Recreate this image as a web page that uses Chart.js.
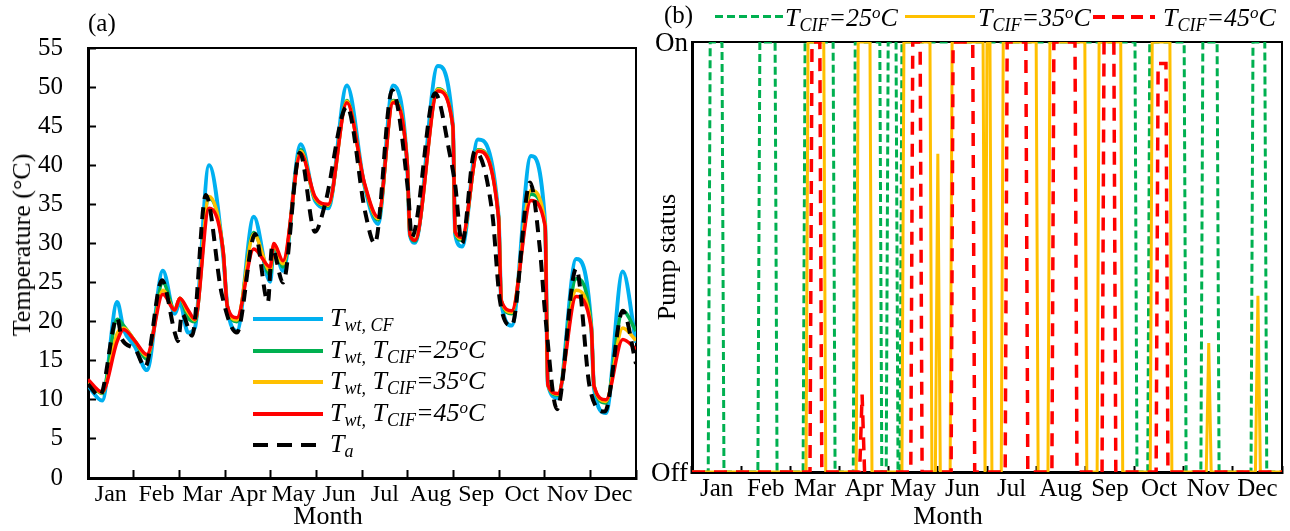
<!DOCTYPE html>
<html>
<head>
<meta charset="utf-8">
<script src="https://cdn.jsdelivr.net/npm/chart.js@4.4.1/dist/chart.umd.min.js"></script>
<style>
  body { margin: 0; background: #fff; }
  #wrap { position: relative; width: 1290px; height: 531px; overflow: hidden;
          font-family: "Liberation Serif", "Times New Roman", serif; color: #000; }
  canvas { position: absolute; top: 0; }
  .lab { position: absolute; font-size: 25px; line-height: 25px; white-space: nowrap; }
  .ttl { position: absolute; font-size: 26px; line-height: 26px; white-space: nowrap;
         transform: translate(-50%, -50%); }
  .rot { transform: translate(-50%, -50%) rotate(-90deg); }
  .t { position: absolute; font-size: 26px; line-height: 26px; white-space: nowrap; font-style: italic; }
  .sb { font-size: 18px; position: relative; top: 5px; }
  .sp { font-size: 17px; position: relative; top: -8px; }
  .smp { position: absolute; height: 4px; }
</style>
</head>
<body>
<div id="wrap">
  <canvas id="chartA" width="645" height="531" style="left:0"></canvas>
  <canvas id="chartB" width="650" height="531" style="left:640px"></canvas>

  <div class="lab" style="left:88px;top:10px">(a)</div>
  <div class="lab" style="left:664px;top:2px">(b)</div>

  <div class="ttl rot" style="left:22px;top:245px">Temperature (°C)</div>
  <div class="ttl" style="left:328px;top:516px">Month</div>
  <div class="ttl rot" style="left:667px;top:257px">Pump status</div>
  <div class="ttl" style="left:948px;top:516px">Month</div>

  <!-- legend (a) -->
  <div class="smp" style="left:253px;top:317px;width:70px;background:#00B0F0"></div>
  <div class="t" style="left:330px;top:305px">T<span class="sb">wt, CF</span></div>
  <div class="smp" style="left:253px;top:349px;width:70px;background:#00B050"></div>
  <div class="t" style="left:330px;top:337px">T<span class="sb">wt,</span> T<span class="sb">CIF</span>=25<span class="sp">o</span>C</div>
  <div class="smp" style="left:253px;top:380px;width:70px;background:#FFC000"></div>
  <div class="t" style="left:330px;top:368px">T<span class="sb">wt,</span> T<span class="sb">CIF</span>=35<span class="sp">o</span>C</div>
  <div class="smp" style="left:253px;top:412px;width:70px;background:#FF0000"></div>
  <div class="t" style="left:330px;top:400px">T<span class="sb">wt,</span> T<span class="sb">CIF</span>=45<span class="sp">o</span>C</div>
  <div class="smp" style="left:253px;top:443px;width:64px;background:repeating-linear-gradient(90deg,#000 0 15px,transparent 15px 24px)"></div>
  <div class="t" style="left:330px;top:431px">T<span class="sb">a</span></div>

  <!-- legend (b) -->
  <div class="smp" style="left:715px;top:15px;height:3px;width:68px;background:repeating-linear-gradient(90deg,#00B050 0 8px,transparent 8px 12px)"></div>
  <div class="t" style="left:785px;top:5px">T<span class="sb">CIF</span>=25<span class="sp">o</span>C</div>
  <div class="smp" style="left:905px;top:15px;height:3px;width:70px;background:#FFC000"></div>
  <div class="t" style="left:978px;top:5px">T<span class="sb">CIF</span>=35<span class="sp">o</span>C</div>
  <div class="smp" style="left:1093px;top:15px;width:62px;background:repeating-linear-gradient(90deg,#FF0000 0 12px,transparent 12px 19px)"></div>
  <div class="t" style="left:1163px;top:5px">T<span class="sb">CIF</span>=45<span class="sp">o</span>C</div>
</div>

<script>
const months = ['Jan', 'Feb', 'Mar', 'Apr', 'May', 'Jun', 'Jul', 'Aug', 'Sep', 'Oct', 'Nov', 'Dec'];

// (a) water temperature, x in months from 1 Jan
const tPos = [0, 0.31, 0.64, 0.78, 1.03, 1.29, 1.64, 1.90, 2.01, 2.19, 2.34, 2.65, 2.96, 3.05, 3.26, 3.63,
  3.99, 4.07, 4.27, 4.66, 4.97, 5.26, 5.67, 6.05, 6.35, 6.68, 6.99, 7.05, 7.16, 7.66, 7.99, 8.04, 8.19,
  8.54, 8.99, 9.05, 9.28, 9.70, 10.01, 10.07, 10.29, 10.69, 11.02, 11.08, 11.34, 11.71, 12.0];
const tCF = [11.8, 9.9, 22.5, 19.0, 16.8, 13.8, 26.5, 21.0, 22.5, 18.6, 19.2, 40.0, 28.5, 22.0, 18.8, 33.4,
  25.1, 29.5, 26.5, 42.7, 35.5, 34.5, 50.2, 37.5, 32.5, 50.2, 40.0, 31.0, 30.1, 52.7, 45.0, 31.2, 29.6,
  43.3, 33.5, 22.5, 19.5, 41.2, 32.5, 12.0, 10.2, 28.0, 19.5, 11.5, 8.3, 26.4, 17.3];
const t25 = [12.3, 10.8, 20.3, 19.5, 17.5, 15.2, 25.0, 21.5, 23.0, 20.5, 20.0, 35.8, 29.0, 22.0, 20.0, 31.4,
  26.0, 29.8, 27.0, 42.0, 35.7, 34.8, 48.3, 37.6, 33.0, 48.3, 40.2, 31.1, 30.3, 49.8, 45.0, 31.4, 30.4,
  42.0, 33.4, 22.6, 21.0, 36.3, 32.3, 11.9, 10.6, 25.5, 19.5, 11.8, 9.6, 21.4, 18.8];
const t35 = [12.4, 10.9, 18.5, 19.2, 17.5, 15.6, 24.0, 21.5, 23.0, 21.2, 20.2, 36.0, 29.0, 22.0, 20.2, 31.2,
  26.5, 29.9, 27.4, 41.8, 35.8, 34.9, 48.2, 37.7, 33.2, 48.2, 40.3, 31.2, 30.5, 49.7, 45.0, 31.5, 30.6,
  41.9, 33.4, 22.7, 21.2, 36.8, 32.4, 11.9, 10.7, 24.0, 19.3, 11.8, 9.8, 19.2, 17.6];
const t45 = [12.6, 11.0, 17.5, 19.0, 17.5, 15.8, 23.5, 21.5, 23.0, 21.5, 20.3, 34.5, 29.0, 22.0, 20.5, 29.3,
  27.0, 30.0, 27.8, 41.5, 36.0, 35.0, 48.0, 37.8, 33.4, 48.0, 40.3, 31.2, 30.4, 49.5, 45.0, 31.5, 30.8,
  41.8, 33.3, 22.7, 21.4, 35.5, 32.2, 11.9, 10.8, 23.2, 19.2, 11.8, 10.0, 17.7, 16.5];
const taPos = [0, 0.26, 0.64, 0.74, 1.03, 1.25, 1.62, 1.90, 1.97, 2.06, 2.28, 2.58, 2.93, 3.26, 3.66, 3.94,
  4.03, 4.27, 4.64, 4.97, 5.19, 5.67, 6.07, 6.28, 6.66, 7.01, 7.09, 7.60, 7.93, 8.04, 8.19, 8.47, 8.85,
  9.02, 9.28, 9.68, 9.90, 10.01, 10.27, 10.69, 10.99, 11.32, 11.71, 12.0];
const ta = [12.0, 10.5, 20.5, 17.8, 16.5, 14.2, 25.3, 18.6, 17.5, 21.0, 18.2, 36.2, 23.5, 18.6, 31.2, 22.5,
  29.5, 25.0, 41.6, 31.5, 35.0, 47.5, 34.0, 30.0, 49.6, 36.6, 30.8, 49.2, 41.2, 37.5, 30.0, 41.8, 34.0,
  22.7, 19.5, 37.8, 29.0, 21.0, 8.8, 26.8, 11.5, 8.5, 21.4, 14.6];

// (b) pump status: on periods [start, end, level] in months, plus short partial spikes [at, level]
const on25 = [[0.37, 0.61], [1.38, 1.69], [2.30, 2.87], [3.32, 3.82], [3.99, 4.15], [4.27, 9.01],
  [9.31, 10.01], [10.39, 10.68], [11.41, 11.65]];
const on35 = [[2.36, 2.68], [3.38, 3.62], [4.31, 4.84], [5.29, 5.92], [6.00, 6.06], [6.33, 7.00],
  [7.28, 7.99], [8.28, 8.72], [9.36, 9.72]];
const spikes35 = [[5.00, 0.74], [10.51, 0.30], [11.51, 0.41]];
const on45 = [[2.44, 2.60], [4.49, 4.64], [5.31, 5.71], [6.41, 6.79], [7.36, 7.79], [8.38, 8.58],
  [9.48, 9.64, 0.95]];
const spikes45 = [[3.46, 0.18]];

const F = '"Liberation Serif", "Times New Roman", serif';
const RAMP = 0.04, SPIKE = 0.05;

function series(xs, ys) {
  return xs.map((x, i) => ({ x: x, y: ys[i] }));
}

function pumpPoints(onList, spikeList) {
  const shapes = [];
  onList.forEach(p => {
    const l = p[2] || 1;
    shapes.push({ s: p[0], pts: [[p[0] - RAMP, 0], [p[0], l], [p[1], l], [p[1] + RAMP, 0]] });
  });
  spikeList.forEach(p => {
    shapes.push({ s: p[0], pts: [[p[0] - SPIKE, 0], [p[0], p[1]], [p[0] + SPIKE, 0]] });
  });
  shapes.sort((a, b) => a.s - b.s);
  const out = [{ x: 0, y: 0 }];
  shapes.forEach(sh => sh.pts.forEach(([x, y]) => out.push({ x: x, y: y })));
  out.push({ x: 12, y: 0 });
  return out;
}

// box round the plot area
const frame = {
  id: 'frame',
  beforeDatasetsDraw(chart) {
    const a = chart.chartArea, g = chart.ctx;
    g.save();
    g.strokeStyle = '#000';
    g.lineWidth = 2;
    g.strokeRect(a.left, a.top, a.right - a.left, a.bottom - a.top);
    g.restore();
  }
};

function monthAxis(tick, pad, h, size) {
  return {
    type: 'category', labels: months, position: 'bottom', offset: true,
    grid: { offset: true, drawOnChartArea: false, tickLength: tick, tickWidth: 2, tickColor: '#000', color: '#000' },
    border: { display: true, color: '#000', width: 3 },
    ticks: { color: '#000', font: { family: F, size: size }, padding: pad, maxRotation: 0, autoSkip: false },
    afterFit: s => { s.height = h; }
  };
}

const line = (data, color, width, dash) => ({
  data: data, borderColor: color, borderWidth: width, borderDash: dash || [],
  pointRadius: 0, fill: false
});

new Chart(document.getElementById('chartA'), {
  type: 'line',
  data: {
    datasets: [
      Object.assign(line(series(taPos, ta), '#000000', 4, [12, 8]), { cubicInterpolationMode: 'monotone' }),
      Object.assign(line(series(tPos, t45), '#FF0000', 3.5), { cubicInterpolationMode: 'monotone' }),
      Object.assign(line(series(tPos, t35), '#FFC000', 3.5), { cubicInterpolationMode: 'monotone' }),
      Object.assign(line(series(tPos, t25), '#00B050', 3.5), { cubicInterpolationMode: 'monotone' }),
      Object.assign(line(series(tPos, tCF), '#00B0F0', 4), { cubicInterpolationMode: 'monotone' })
    ]
  },
  options: {
    responsive: false, animation: false, events: [],
    layout: { padding: { left: 0, right: 9, top: 40, bottom: 0 } },
    plugins: { legend: { display: false }, tooltip: { enabled: false } },
    scales: {
      x: { type: 'linear', min: 0, max: 12, display: false },
      xm: monthAxis(-8, 10, 53, 24),
      y: {
        min: 0, max: 55,
        ticks: { stepSize: 5, color: '#000', font: { family: F, size: 25 }, padding: 33 },
        grid: { drawOnChartArea: false, tickLength: -8, tickWidth: 2, tickColor: '#000', color: '#000' },
        border: { color: '#000', width: 3 },
        afterFit: s => { s.width = 88; }
      }
    }
  },
  plugins: [frame]
});

new Chart(document.getElementById('chartB'), {
  type: 'line',
  data: {
    datasets: [
      line(pumpPoints(on45, spikes45), '#FF0000', 3.5, [13, 9]),
      line(pumpPoints(on35, spikes35), '#FFC000', 3),
      line(pumpPoints(on25, []), '#00B050', 3, [8, 4])
    ]
  },
  options: {
    responsive: false, animation: false, events: [],
    layout: { padding: { left: 0, right: 8, top: 42, bottom: 0 } },
    plugins: { legend: { display: false }, tooltip: { enabled: false } },
    scales: {
      x: { type: 'linear', min: 0, max: 12, display: false },
      xm: monthAxis(-6, 8, 59, 25),
      y: {
        min: 0, max: 1,
        afterBuildTicks: s => { s.ticks = [{ value: 0 }, { value: 1 }]; },
        ticks: { color: '#000', font: { family: F, size: 27 }, padding: 4, labelOffset: 2,
                 callback: v => (v === 1 ? 'On' : 'Off') },
        grid: { drawOnChartArea: false, drawTicks: false },
        border: { color: '#000', width: 3 },
        afterFit: s => { s.width = 52; }
      }
    }
  },
  plugins: [frame]
});
</script>
</body>
</html>
